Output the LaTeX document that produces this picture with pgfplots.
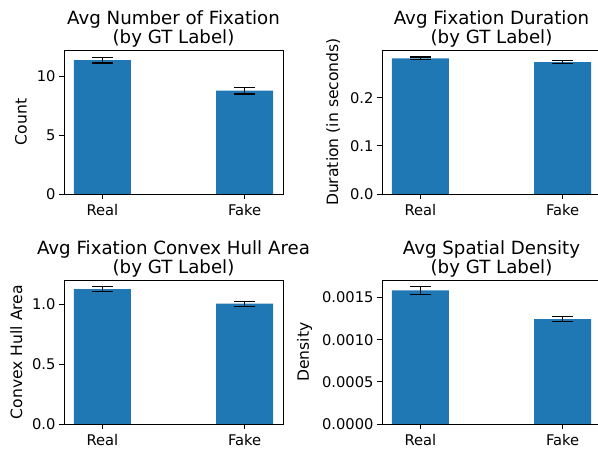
\documentclass[border=0pt]{standalone}
\usepackage{pgfplots}
\pgfplotsset{compat=1.18}
\usepackage{fontspec}
\setmainfont{DejaVu Sans}
\definecolor{tabblue}{RGB}{31,119,180}
\pgfplotsset{myax/.style={
  scale only axis, width=219pt, height=144pt,
  xmin=-0.27, xmax=1.27, ymin=0,
  xtick={0,1}, xticklabels={Real,Fake},
  axis line style={black, line width=0.9pt},
  tick style={black, line width=0.9pt},
  major tick length=5pt, tick align=outside, tick pos=left,
  tick label style={font=\fontsize{14.7}{17}\selectfont},
  xticklabel style={yshift=-2pt},
  label style={font=\fontsize{15.6}{18}\selectfont},
  ylabel style={yshift=3pt},
  title style={font=\fontsize{18.2}{19}\selectfont, align=center, yshift=-7pt},
  /pgf/number format/assume math mode=true,
  scaled y ticks=false,
  error bars/error bar style={black, line width=1.1pt},
  error bars/error mark=|,
  error bars/error mark options={black, line width=1.1pt, mark size=10.5pt},
}}
\begin{document}
\begin{tikzpicture}[x=1pt,y=1pt]
\path[use as bounding box] (0,0) rectangle (598,450);
\begin{scope}
\clip (0,0) rectangle (598,450);
\begin{axis}[myax, at={(64pt,256pt)}, anchor=south west, ymax=12.2,
  ytick={0,5,10}, ylabel={Count},
  title={Avg Number of Fixation\\(by GT Label)}]
\addplot[ybar, bar width=0.4, fill=tabblue, draw=none,
  error bars/.cd, y dir=both, y explicit]
  coordinates {(0,11.35) +- (0,0.25) (1,8.75) +- (0,0.28)};
\end{axis}
\begin{axis}[myax, at={(382pt,256pt)}, anchor=south west, ymax=0.2995,
  ytick={0,0.1,0.2}, yticklabel style={/pgf/number format/.cd, fixed, fixed zerofill, precision=1},
  ylabel={Duration (in seconds)},
  title={Avg Fixation Duration\\(by GT Label)}]
\addplot[ybar, bar width=0.4, fill=tabblue, draw=none,
  error bars/.cd, y dir=both, y explicit]
  coordinates {(0,0.282) +- (0,0.003) (1,0.2745) +- (0,0.003)};
\end{axis}
\begin{axis}[myax, at={(64pt,26pt)}, anchor=south west, ymax=1.201,
  ytick={0,0.5,1.0}, yticklabel style={/pgf/number format/.cd, fixed, fixed zerofill, precision=1},
  ylabel={Convex Hull Area},
  title={Avg Fixation Convex Hull Area\\(by GT Label)}]
\addplot[ybar, bar width=0.4, fill=tabblue, draw=none,
  error bars/.cd, y dir=both, y explicit]
  coordinates {(0,1.125) +- (0,0.02) (1,1.003) +- (0,0.022)};
\end{axis}
\begin{axis}[myax, at={(382pt,26pt)}, anchor=south west, ymax=0.001708,
  ytick={0,0.0005,0.0010,0.0015}, yticklabel style={/pgf/number format/.cd, fixed, fixed zerofill, precision=4},
  ylabel={Density},
  title={Avg Spatial Density\\(by GT Label)}]
\addplot[ybar, bar width=0.4, fill=tabblue, draw=none,
  error bars/.cd, y dir=both, y explicit]
  coordinates {(0,0.001585) +- (0,0.000045) (1,0.001245) +- (0,0.00003)};
\end{axis}
\end{scope}
\end{tikzpicture}
\end{document}
